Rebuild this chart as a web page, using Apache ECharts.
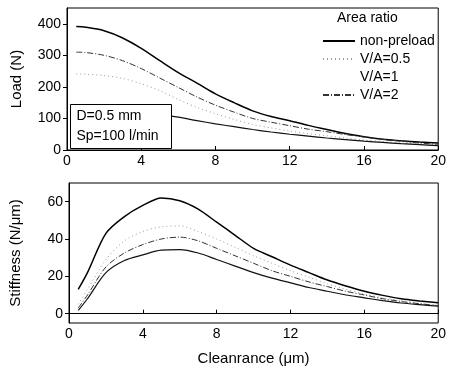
<!DOCTYPE html>
<html>
<head>
<meta charset="utf-8">
<script src="https://cdn.jsdelivr.net/npm/echarts@6/dist/echarts.min.js"></script>
<style>
  html, body { margin: 0; padding: 0; background: #fff; }
  #chart { width: 449px; height: 367px; }
</style>
</head>
<body>
<div id="chart"></div>
<script>
// clearance values (um)
var xs = [0.5, 1, 2, 3, 4, 5, 6, 7, 8, 9, 10, 11, 12, 13, 14, 15, 16, 17, 18, 19, 20];
var seriesNames = ['non-preload', 'V/A=0.5', 'V/A=1', 'V/A=2'];

// load (N)
var loadNonPreload = [391, 389, 378, 355, 322, 283, 245, 212, 178, 150, 124, 106, 93, 78, 65, 52, 42, 34, 29, 25, 22];
var loadVA05 = [241, 240, 236, 227, 210, 188, 160, 135, 115, 97, 81, 70, 60, 52, 45, 38, 32, 27, 22, 18, 15];
var loadVA1 = [128, 128, 127, 124, 119, 113, 104, 93, 83, 74, 65, 57, 50, 44, 38, 33, 28, 24, 20, 17, 14];
var loadVA2 = [310, 309, 300, 283, 258, 228, 198, 168, 142, 120, 100, 88, 77, 66, 58, 49, 41, 34, 28, 22, 18];

// stiffness (N/um)
var stiffNonPreload = [13, 22, 43, 52, 58, 62, 60.5, 56, 49, 42, 35, 30.5, 26, 22, 18, 14.8, 12, 9.8, 8, 6.8, 5.8];
var stiffVA05 = [5, 13, 29, 39, 44, 46.5, 47, 44, 40, 35.5, 31, 27, 23, 19.5, 16, 13, 10.5, 8.5, 7, 5.5, 4.5];
var stiffVA1 = [1.7, 8, 22, 28.5, 31.5, 34, 34.3, 32.5, 29, 25.5, 22, 19, 16.5, 14, 12, 10, 8.5, 7, 5.7, 4.8, 4];
var stiffVA2 = [3, 10, 25, 32.5, 37, 40, 41, 39, 35, 31, 27, 23, 20, 17, 14.5, 12, 10, 8, 6.5, 5.3, 4.3];

var loadTicks = [0, 100, 200, 300, 400];
var stiffTicks = [0, 20, 40, 60];

function pairs(ys) {
  var out = [];
  for (var i = 0; i < xs.length; i++) {
    out.push([xs[i], ys[i]]);
  }
  return out;
}

var font = 'Liberation Sans, Arial, sans-serif';
var styles = {
  'non-preload': { color: '#000', width: 1.5, type: 'solid' },
  'V/A=0.5': { color: '#9a9a9a', width: 1, type: [1, 3] },
  'V/A=1': { color: '#111', width: 1.2, type: 'solid' },
  'V/A=2': { color: '#333', width: 1, type: [6, 2, 1, 2] }
};

function makeSeries(name, data, idx) {
  var s = styles[name];
  return {
    name: name,
    type: 'line',
    xAxisIndex: idx,
    yAxisIndex: idx,
    smooth: 0.3,
    symbol: 'none',
    silent: true,
    itemStyle: { color: s.color },
    lineStyle: { color: s.color, width: s.width, type: s.type },
    data: pairs(data)
  };
}

function xAxisCfg(idx, name) {
  return {
    type: 'value',
    gridIndex: idx,
    min: 0,
    max: 20,
    interval: 4,
    name: name,
    nameLocation: 'middle',
    nameGap: 28,
    nameTextStyle: { color: '#000', fontSize: 15, fontFamily: font },
    axisLine: { lineStyle: { color: '#000', width: 1 } },
    axisTick: { inside: true, length: 4, lineStyle: { color: '#000' } },
    axisLabel: { color: '#000', fontSize: 14, fontFamily: font, margin: 4 },
    splitLine: { show: false }
  };
}

function yAxisCfg(idx, min, max, ticks, name, gap) {
  return {
    type: 'value',
    gridIndex: idx,
    min: min,
    max: max,
    name: name,
    nameLocation: 'middle',
    nameGap: gap,
    nameTextStyle: { color: '#000', fontSize: 15, fontFamily: font },
    axisLine: { show: true, lineStyle: { color: '#000', width: 1 } },
    axisTick: { show: true, length: 4, customValues: ticks, lineStyle: { color: '#000' } },
    axisLabel: { color: '#000', fontSize: 14, fontFamily: font, margin: 6, customValues: ticks },
    splitLine: { show: false }
  };
}

var chart = echarts.init(document.getElementById('chart'));
var option = {
  backgroundColor: '#fff',
  animation: false,
  grid: [
    { left: 67, right: 6, top: 8, height: 142, show: true, borderColor: '#000', borderWidth: 1 },
    { left: 67, right: 6, top: 183, height: 142, show: true, borderColor: '#000', borderWidth: 1 }
  ],
  xAxis: [xAxisCfg(0, ''), xAxisCfg(1, 'Cleanrance (\u03bcm)')],
  yAxis: [
    yAxisCfg(0, 0, 450, loadTicks, 'Load (N)', 43),
    yAxisCfg(1, -5, 70, stiffTicks, 'Stiffness (N/\u03bcm)', 46)
  ],
  legend: {
    orient: 'vertical',
    left: 317,
    top: 29,
    itemWidth: 32,
    itemHeight: 10,
    itemGap: 4,
    selectedMode: false,
    itemStyle: { opacity: 0 },
    textStyle: { color: '#000', fontSize: 14, fontFamily: font },
    data: [
      { name: 'non-preload' },
      { name: 'V/A=0.5' },
      { name: 'V/A=1', lineStyle: { opacity: 0 } },
      { name: 'V/A=2' }
    ]
  },
  graphic: [
    {
      type: 'text', left: 337, top: 11, z: 100,
      style: { text: 'Area ratio', fill: '#000', font: '14px ' + font }
    },
    {
      type: 'group', left: 70, top: 104, z: 100,
      children: [
        { type: 'rect', z: 100, shape: { x: 0, y: 0, width: 101, height: 44 },
          style: { fill: '#fff', stroke: '#000', lineWidth: 1 } },
        { type: 'text', z: 101, x: 6, y: 5, style: { text: 'D=0.5 mm', fill: '#000', font: '14px ' + font } },
        { type: 'text', z: 101, x: 6, y: 25, style: { text: 'Sp=100 l/min', fill: '#000', font: '14px ' + font } }
      ]
    }
  ],
  series: [
    makeSeries('non-preload', loadNonPreload, 0),
    makeSeries('V/A=0.5', loadVA05, 0),
    makeSeries('V/A=1', loadVA1, 0),
    makeSeries('V/A=2', loadVA2, 0),
    makeSeries('non-preload', stiffNonPreload, 1),
    makeSeries('V/A=0.5', stiffVA05, 1),
    makeSeries('V/A=1', stiffVA1, 1),
    makeSeries('V/A=2', stiffVA2, 1)
  ]
};
chart.setOption(option);
</script>
</body>
</html>
